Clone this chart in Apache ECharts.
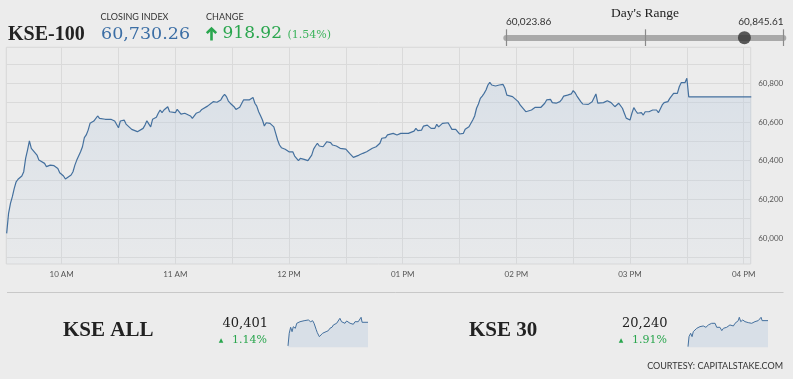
<!DOCTYPE html>
<html><head><meta charset="utf-8">
<script src="https://cdn.jsdelivr.net/npm/echarts@6/dist/echarts.min.js"></script>
<style>html,body{margin:0;padding:0;background:#ececec}#c{width:793px;height:379px}</style>
</head><body><div id="c"></div>
<script>
// ---- KSE-100 intraday (minutes since midnight, index value) ----
const kseTimes = [
571,572,573,574,575,576,577,578,579,580,
581,582,583,584,585,587,588,589,591,592,
593,594,596,597,598,599,601,602,603,605,
606,607,608,609,610,611,612,613,614,615,
617,618,619,620,621,623,624,626,627,628,
629,630,631,632,633,634,635,637,638,640,
641,643,644,645,646,647,648,650,651,652,
653,654,655,656,657,658,660,661,662,663,
665,666,668,669,670,671,673,674,675,677,
678,680,681,682,684,685,686,687,688,689,
691,692,693,694,695,696,697,699,700,701,
702,703,704,705,706,707,708,709,710,711,
712,713,714,715,716,717,718,720,721,722,
723,724,725,726,727,728,730,731,732,733,
734,735,736,737,738,739,740,741,742,743,
745,746,747,748,750,751,752,753,754,755,
757,758,759,760,761,762,764,765,766,768,
769,771,772,773,775,776,777,779,780,781,
782,783,784,786,787,788,789,790,791,792,
793,795,796,797,798,799,800,801,802,804,
805,806,807,808,809,810,811,812,813,814,
815,817,818,819,820,821,822,823,824,825,
826,827,828,829,830,831,833,834,835,836,
838,839,841,842,844,845,846,848,849,850,
851,853,854,855,856,858,859,860,861,863,
864,865,866,867,868,869,870,871,872,874,
875,876,878,879,880,881,882,883,884,886,
887,888,889,890,892,893,894,895,896,897,
898,899,900,901,902,903,904,905,906,907,
908,909,910,911,912,913,914,915,916,917,
918,919,920,921,922,923,924,925,926,927,
928,929,930,931,964
];
const kseValues = [
60024,60128,60179,60214,60257,60291,60304,60309,60321,60343,
60412,60455,60502,60464,60455,60429,60403,60395,60386,60369,
60376,60377,60374,60366,60360,60338,60321,60305,60314,60326,
60343,60377,60403,60412,60446,60472,60519,60533,60558,60593,
60605,60610,60631,60619,60615,60614,60606,60614,60605,60605,
60601,60570,60605,60610,60610,60589,60579,60562,60567,60550,
60544,60567,60584,60606,60596,60575,60614,60624,60645,60662,
60648,60662,60671,60679,60653,60658,60648,60665,60662,60641,
60645,60645,60631,60619,60632,60645,60653,60665,60674,60682,
60688,60705,60702,60702,60714,60731,60743,60731,60708,60697,
60679,60665,60671,60676,60676,60714,60717,60714,60722,60727,
60697,60682,60653,60632,60610,60579,60596,60588,60593,60589,
60575,60541,60507,60481,60467,60469,60459,60446,60438,60446,
60424,60417,60400,60412,60412,60407,60400,60400,60429,60460,
60476,60490,60476,60476,60472,60481,60498,60503,60493,60481,
60476,60472,60464,60459,60460,60450,60438,60429,60417,60424,
60429,60429,60438,60441,60446,60446,60464,60467,60472,60490,
60516,60519,60533,60538,60541,60536,60533,60541,60544,60541,
60550,60541,60541,60553,60567,60555,60558,60558,60579,60579,
60584,60567,60570,60567,60588,60575,60575,60593,60598,60596,
60579,60562,60558,60562,60555,60538,60529,60541,60562,60562,
60575,60610,60631,60671,60693,60722,60734,60748,60765,60791,
60805,60791,60791,60786,60791,60791,60794,60774,60739,60734,
60731,60722,60705,60688,60665,60653,60653,60662,60671,60676,
60671,60676,60679,60697,60714,60717,60700,60700,60697,60705,
60717,60734,60743,60739,60731,60745,60762,60751,60734,60705,
60693,60697,60691,60688,60705,60715,60745,60697,60700,60700,
60705,60710,60700,60700,60679,60679,60697,60690,60671,60645,
60620,60627,60610,60645,60674,60658,60645,60641,60648,60636,
60653,60645,60653,60648,60662,60671,60662,60648,60653,60688,
60700,60700,60705,60722,60731,60748,60745,60748,60782,60803,
60808,60803,60826,60730,60730
];
const xTickMinutes = [600,630,660,690,720,750,780,810,840,870,900,930,960];
const xLabelMinutes = [600,660,720,780,840,900,960];
const xLabels = ['10 AM','11 AM','12 PM','01 PM','02 PM','03 PM','04 PM'];
const yGridValues = [59900,60000,60100,60200,60300,60400,60500,60600,60700,60800,60900];
const yLabelValues = [60000,60200,60400,60600,60800];

// ---- header figures ----
const indexName = 'KSE-100';
const closingIndex = 60730.26;
const changePoints = 918.92;
const changePct = 1.54;
const dayLow = 60023.86;
const dayHigh = 60845.61;

// ---- sub indices ----
const subNames = ['KSE ALL', 'KSE 30'];
const subValues = [40401, 20240];
const subPct = [1.14, 1.91];
const kseAllTimes = [571,577,584,591,597,607,614,622,630,638,650,659,671,682,692,699,709,715,725,732,741,748,758,769,777,787,794,802,810,818,826,834,842,851,859,867,876,884,892,900,909,916,925,930,935,964];
const kseAllValues = [40117,40269,40341,40288,40348,40329,40389,40369,40408,40389,40420,40408,40429,40408,40420,40389,40317,40276,40228,40249,40269,40249,40288,40300,40329,40341,40369,40357,40389,40377,40449,40408,40429,40389,40417,40396,40389,40401,40377,40408,40396,40408,40420,40461,40401,40401];
const kse30Times = [571,576,584,591,597,605,614,622,630,638,646,659,671,679,687,695,704,712,720,728,737,745,754,761,769,777,786,794,802,810,818,823,830,840,851,859,867,876,884,892,900,909,916,925,930,935,964];
const kse30Values = [20084,20144,20164,20144,20174,20168,20194,20188,20204,20198,20208,20200,20214,20208,20224,20218,20224,20200,20188,20200,20180,20194,20188,20200,20204,20214,20218,20208,20224,20218,20240,20260,20234,20244,20234,20240,20228,20238,20224,20230,20234,20230,20240,20244,20260,20240,20240];

const comma = s => s.replace(/\B(?=(\d{3})+(?!\d))/g, ',');
const fmt0 = v => comma(String(Math.round(v)));
const fmt2 = v => { const p = v.toFixed(2).split('.'); return comma(p[0]) + '.' + p[1]; };

const SERIF = '"Liberation Serif", serif';
const DSERIF = '"DejaVu Serif", serif';
const SANS = 'Lato, "Open Sans", sans-serif';
const GREEN = '#2aa64e';
const LINE = '#44709e';

function txt(x, y, text, font, fill, align) {
  return { type: 'text', x: x, y: y, silent: true,
    style: { text: text, font: font, fill: fill, align: align || 'left', verticalAlign: 'middle' } };
}
const pair = (ts, vs) => ts.map((t, i) => [t, vs[i]]);

const chart = echarts.init(document.getElementById('c'), null, { renderer: 'canvas' });
chart.setOption({
  backgroundColor: '#ececec',
  animation: false,
  grid: [
    { left: 6.3, top: 47.3, width: 744.4, height: 216.7, show: true, borderColor: '#d8d8d8', borderWidth: 1, containLabel: false },
    { left: 506.3, top: 29.3, width: 277, height: 16.7 },
    { left: 288, top: 317.3, width: 80, height: 30 },
    { left: 688, top: 317.3, width: 80, height: 30 }
  ],
  xAxis: [
    { gridIndex: 0, type: 'value', min: 570.8, max: 963.7,
      axisLine: { show: false },
      axisTick: { show: false, customValues: xTickMinutes },
      axisLabel: { customValues: xLabelMinutes, formatter: v => xLabels[xLabelMinutes.indexOf(v)] || '',
        fontSize: 8, color: '#555', fontFamily: SANS, margin: 6 },
      splitLine: { show: true, lineStyle: { color: '#dadada', width: 1 } } },
    { gridIndex: 1, type: 'value', min: dayLow, max: dayHigh,
      axisLine: { show: true, onZero: true, lineStyle: { color: '#a9a9a9', width: 6 } },
      axisTick: { show: false }, axisLabel: { show: false }, splitLine: { show: false } },
    { gridIndex: 2, type: 'value', min: 571, max: 964, show: false },
    { gridIndex: 3, type: 'value', min: 571, max: 964, show: false }
  ],
  yAxis: [
    { gridIndex: 0, type: 'value', min: 59866, max: 60986, position: 'right',
      axisLine: { show: false },
      axisTick: { show: false, customValues: yGridValues },
      axisLabel: { customValues: yLabelValues, formatter: fmt0, fontSize: 8, color: '#555', fontFamily: SANS, margin: 7.5 },
      splitLine: { show: true, lineStyle: { color: '#dadada', width: 1 } } },
    { gridIndex: 1, type: 'value', min: -1, max: 1, show: false },
    { gridIndex: 2, type: 'value', min: 40100, max: 40461, show: false },
    { gridIndex: 3, type: 'value', min: 20080, max: 20260, show: false }
  ],
  series: [
    { type: 'line', xAxisIndex: 0, yAxisIndex: 0, data: pair(kseTimes, kseValues),
      showSymbol: false, symbol: 'none', silent: true,
      lineStyle: { color: LINE, width: 1.2 },
      areaStyle: { color: new echarts.graphic.LinearGradient(0, 0, 0, 1, [
        { offset: 0, color: 'rgba(188,205,224,0.55)' }, { offset: 1, color: 'rgba(188,205,224,0.12)' }]) } },
    { type: 'scatter', xAxisIndex: 1, yAxisIndex: 1, data: [[closingIndex, 0]], symbolSize: 13, silent: true,
      itemStyle: { color: '#333' }, z: 5,
      markLine: { silent: true, symbol: ['none', 'none'], label: { show: false },
        lineStyle: { color: '#8a8a8a', width: 1.2, type: 'solid' },
        data: [{ xAxis: dayLow }, { xAxis: (dayLow + dayHigh) / 2 }, { xAxis: dayHigh }] } },
    { type: 'line', xAxisIndex: 2, yAxisIndex: 2, data: pair(kseAllTimes, kseAllValues), showSymbol: false, silent: true,
      lineStyle: { color: LINE, width: 1 }, areaStyle: { color: 'rgba(192,207,224,0.65)' } },
    { type: 'line', xAxisIndex: 3, yAxisIndex: 3, data: pair(kse30Times, kse30Values), showSymbol: false, silent: true,
      lineStyle: { color: LINE, width: 1 }, areaStyle: { color: 'rgba(192,207,224,0.65)' } }
  ],
  graphic: [
    txt(8, 34.5, indexName, 'bold 20px ' + SERIF, '#222'),
    txt(100.5, 17.5, 'CLOSING INDEX', '9px ' + SANS, '#333'),
    txt(101, 34, fmt2(closingIndex), '17.5px ' + DSERIF, '#3b6ea5'),
    txt(206, 17.5, 'CHANGE', '9px ' + SANS, '#333'),
    { type: 'polyline', silent: true, shape: { points: [[206.8, 33.2], [211.5, 28.5], [216.2, 33.2]] },
      style: { stroke: GREEN, lineWidth: 2.6, fill: null } },
    { type: 'line', silent: true, shape: { x1: 211.5, y1: 29, x2: 211.5, y2: 40.5 },
      style: { stroke: GREEN, lineWidth: 2.6 } },
    txt(222.5, 34, fmt2(changePoints), '17px ' + DSERIF, GREEN),
    txt(287.5, 35, '(' + changePct.toFixed(2) + '%)', '11px ' + DSERIF, '#3cb35c'),
    txt(645, 13, "Day's Range", '13.5px ' + SERIF, '#222', 'center'),
    txt(506, 22, fmt2(dayLow), '10px ' + SANS, '#333'),
    txt(783.5, 22, fmt2(dayHigh), '10px ' + SANS, '#333', 'right'),
    { type: 'line', silent: true, shape: { x1: 7, y1: 292.5, x2: 783.5, y2: 292.5 }, style: { stroke: '#c8c8c8', lineWidth: 1 } },
    txt(63, 331, subNames[0], 'bold 21px ' + SERIF, '#222'),
    txt(268, 324, fmt0(subValues[0]), '13px ' + DSERIF, '#222', 'right'),
    txt(221, 340.5, '\u25B2', '6px "DejaVu Sans"', GREEN, 'center'),
    txt(267, 340, subPct[0].toFixed(2) + '%', '11px ' + DSERIF, GREEN, 'right'),
    txt(469, 331, subNames[1], 'bold 21px ' + SERIF, '#222'),
    txt(667.5, 324, fmt0(subValues[1]), '13px ' + DSERIF, '#222', 'right'),
    txt(621, 340.5, '\u25B2', '6px "DejaVu Sans"', GREEN, 'center'),
    txt(667, 340, subPct[1].toFixed(2) + '%', '11px ' + DSERIF, GREEN, 'right'),
    txt(783, 366, 'COURTESY: CAPITALSTAKE.COM', '9px ' + SANS, '#333', 'right')
  ]
});
</script></body></html>
